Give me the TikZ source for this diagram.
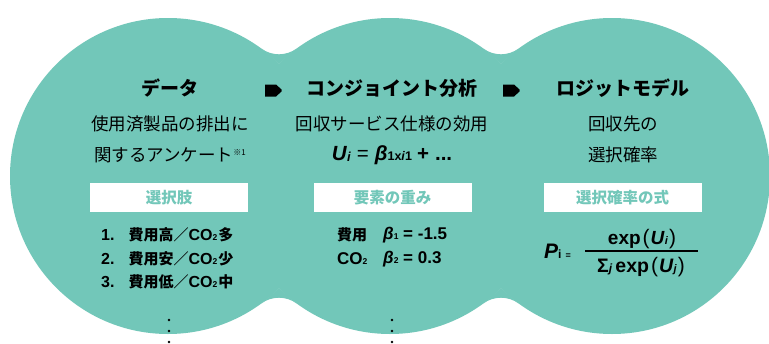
\documentclass[tikz,border=0pt]{standalone}
\usepackage{fontspec}
\setmainfont{Noto Sans CJK JP}
\newfontfamily\lat{Liberation Sans}
\definecolor{blobc}{RGB}{114,199,185}
\newcommand\mysub[1]{{\fontsize{8.5}{8.5}\selectfont #1}}
\newcommand\latb{\lat\fontsize{16}{16}\selectfont}
\newcommand\cjkb{\rmfamily\fontsize{15}{15}\selectfont}
\tikzset{
  blob/.style={fill=blobc},
  ttl/.style={font=\fontsize{19}{19}\selectfont\bfseries, inner sep=0pt},
  subt/.style={font=\fontsize{17.5}{17.5}\selectfont, inner sep=0pt},
  lbl/.style={fill=white, minimum width=158pt, minimum height=29pt, inner sep=0pt, text=blobc, font=\fontsize{15.5}{15.5}\selectfont\bfseries},
  item/.style={font=\fontsize{15}{15}\selectfont\bfseries, anchor=west, inner sep=0pt},
  arrowhead/.style={fill=black},
  dotm/.style={fill=black, circle, inner sep=0pt, minimum size=2.8pt},
}
\begin{document}
\begin{tikzpicture}[x=1pt,y=-1pt]
\useasboundingbox (0,0) rectangle (769,343);
\fill[white] (0,0) rectangle (769,343);
% three overlapping circles
\fill[blob] (168,176) circle[radius=158pt] (390,176) circle[radius=158pt] (612,176) circle[radius=158pt];
% rounded fillets at the junctions
\foreach \dx in {0,222}{
  \fill[blob] (261.3+\dx,48.5) -- (279+\dx,63.6) -- (296.7+\dx,48.5)
     arc[start angle=53.8, end angle=126.2, radius=30] -- cycle;
  \fill[blob] (261.3+\dx,303.5) -- (279+\dx,288.4) -- (296.7+\dx,303.5)
     arc[start angle=-53.8, end angle=-126.2, radius=30] -- cycle;
}
% titles
\node[ttl] (t1) at (170,88) {データ};
\node[ttl] (t2) at (392,88) {コンジョイント分析};
\node[ttl] (t3) at (623,88) {ロジットモデル};
% arrows
\fill[arrowhead] (265,84.5) -- (276,84.5) -- (281.5,89.5) -- (281.5,91.5) -- (276,96.5) -- (265,96.5) -- cycle;
\fill[arrowhead] (503,84.5) -- (514,84.5) -- (519.5,89.5) -- (519.5,91.5) -- (514,96.5) -- (503,96.5) -- cycle;
% subtitles
\node[subt] (s1a) at (170,124) {使用済製品の排出に};
\node[subt] (s1b) at (170,155) {関するアンケート\raisebox{6pt}{\fontsize{8}{8}\selectfont ※1}};
\node[subt] (s2a) at (392,124) {回収サービス仕様の効用};
\node[inner sep=0pt] (s2b) at (392,155) {\lat\bfseries\fontsize{20.5}{20.5}\selectfont
  \textit{U}\raisebox{-1pt}{\fontsize{13}{13}\selectfont\textit{i}}\hspace{6pt}{\mdseries =}\hspace{6pt}\textit{β}\raisebox{-0.5pt}{\fontsize{12.5}{12.5}\selectfont 1x\textit{i}1}\hspace{5pt}+\hspace{6pt}...};
\node[subt] (s3a) at (623,124) {回収先の};
\node[subt] (s3b) at (623,155) {選択確率};
% label boxes
\node[lbl] (b1) at (169,197.5) {選択肢};
\node[lbl] (b2) at (392.5,197.5) {要素の重み};
\node[lbl] (b3) at (622.5,197.5) {選択確率の式};
% left list
\node[item] (l1) at (101,235) {\latb 1.\hspace{14pt}\cjkb 費用高／\latb CO\mysub{2}\hspace{1pt}\cjkb 多};
\node[item] (l2) at (101,258.5) {\latb 2.\hspace{14pt}\cjkb 費用安／\latb CO\mysub{2}\hspace{1pt}\cjkb 少};
\node[item] (l3) at (101,281.5) {\latb 3.\hspace{14pt}\cjkb 費用低／\latb CO\mysub{2}\hspace{1pt}\cjkb 中};
% middle list
\node[item] (m1a) at (337,235) {費用};
\node[item] (m1b) at (383,235) {\lat\fontsize{17}{17}\selectfont\textit{β}\mysub{1} = -1.5};
\node[item] (m2a) at (337,259) {\lat\fontsize{17}{17}\selectfont CO\mysub{2}};
\node[item] (m2b) at (383,259) {\lat\fontsize{17}{17}\selectfont\textit{β}\mysub{2} = 0.3};
% right formula
\node[inner sep=0pt, anchor=base west] (P) at (544,258) {\lat\bfseries\fontsize{21}{21}\selectfont\textit{P}{\fontsize{12}{12}\selectfont i}\hspace{4pt}{\fontsize{9}{9}\selectfont =}};
\node[inner sep=0pt] (num) at (642,239) {\lat\bfseries\fontsize{19}{19}\selectfont exp\hspace{2pt}{\mdseries\fontsize{21}{21}\selectfont (}\hspace{1pt}\textit{U}{\fontsize{11}{11}\selectfont\textit{i}}\hspace{1pt}{\mdseries\fontsize{21}{21}\selectfont )}};
\node[inner sep=0pt] (den) at (641,267) {\lat\bfseries\fontsize{19.5}{19.5}\selectfont Σ{\fontsize{12}{12}\selectfont\textit{j}}\hspace{3pt}exp\hspace{2pt}{\mdseries\fontsize{21}{21}\selectfont (}\hspace{1pt}\textit{U}{\fontsize{11}{11}\selectfont\textit{j}}\hspace{1pt}{\mdseries\fontsize{21}{21}\selectfont )}};
\coordinate (barL) at (585,251);
\coordinate (barR) at (698,251);
\draw[line width=1.2pt] (barL) -- (barR);
% dots
\foreach \y [count=\k] in {320,331,342}{
  \node[dotm] (dl\k) at (169,\y) {};
  \node[dotm] (dm\k) at (392,\y) {};
}
\end{tikzpicture}
\end{document}
